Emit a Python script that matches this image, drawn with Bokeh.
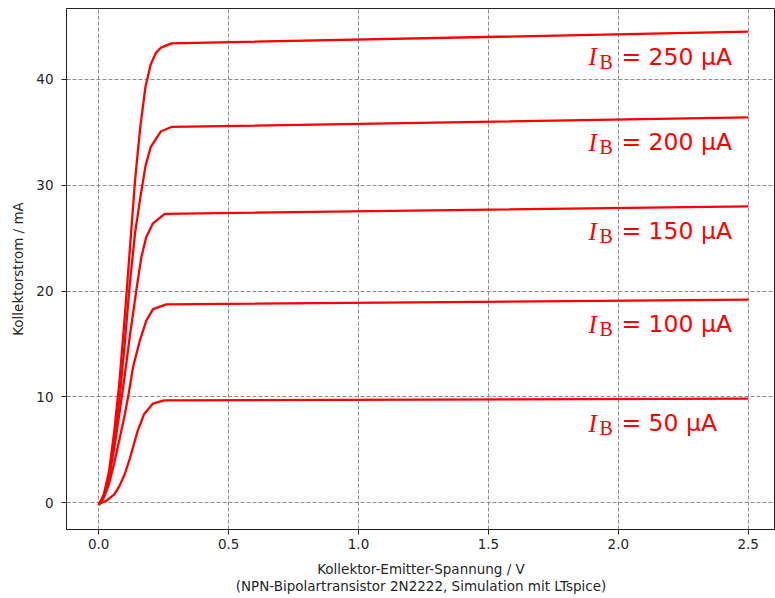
from bokeh.plotting import figure
from bokeh.models import Range1d, FixedTicker, PrintfTickFormatter
from bokeh.core.properties import value
from bokeh.embed import file_html
from bokeh.resources import INLINE

# --- data ---
ib_labels = ["50", "100", "150", "200", "250"]

u50 = [0.0, 0.03, 0.06, 0.08, 0.10, 0.12, 0.15, 0.175, 0.208, 0.252, 2.5]
i50 = [-0.1, 0.2, 0.8, 1.6, 2.7, 4.2, 6.8, 8.4, 9.36, 9.67, 9.85]

u100 = [0.0, 0.02, 0.04, 0.06, 0.08, 0.10, 0.113, 0.132, 0.158, 0.183, 0.209, 0.26, 2.5]
i100 = [-0.2, 0.5, 1.8, 3.8, 6.0, 8.3, 10.0, 12.8, 15.3, 17.2, 18.3, 18.74, 19.2]

u150 = [0.0, 0.02, 0.04, 0.06, 0.08, 0.10, 0.12, 0.145, 0.164, 0.183, 0.209, 0.254, 2.5]
i150 = [-0.2, 0.6, 2.4, 5.2, 8.5, 12.0, 15.8, 20.1, 23.2, 25.1, 26.4, 27.3, 28.0]

u200 = [0.0, 0.02, 0.04, 0.06, 0.08, 0.10, 0.12, 0.14, 0.16, 0.18, 0.20, 0.24, 0.28, 2.5]
i200 = [-0.2, 0.7, 2.7, 6.0, 9.8, 15.0, 20.8, 25.5, 28.8, 31.8, 33.6, 35.1, 35.5, 36.4]

u250 = [0.0, 0.02, 0.04, 0.06, 0.08, 0.10, 0.12, 0.14, 0.16, 0.18, 0.20, 0.22, 0.24, 0.28, 2.5]
i250 = [-0.2, 0.8, 3.0, 6.8, 11.5, 17.5, 24.0, 30.5, 35.5, 39.3, 41.4, 42.5, 43.0, 43.4, 44.5]

x_ticks = [0.0, 0.5, 1.0, 1.5, 2.0, 2.5]
y_ticks = [0, 10, 20, 30, 40]

curves = [(u50, i50), (u100, i100), (u150, i150), (u200, i200), (u250, i250)]

p = figure(width=775, height=598, output_backend="svg", toolbar_location=None,
           x_range=Range1d(-0.124, 2.605), y_range=Range1d(-2.52, 46.69),
           min_border_left=66, min_border_right=0, min_border_top=8,
           min_border_bottom=69)
p.background_fill_color = "white"
p.border_fill_color = "white"
p.outline_line_color = "#222222"
p.outline_line_width = 1

for ax, ticks in ((p.xaxis[0], x_ticks), (p.yaxis[0], y_ticks)):
    ax.ticker = FixedTicker(ticks=ticks)
    ax.minor_tick_line_color = None
    ax.major_tick_out = 5
    ax.major_tick_in = 0
    ax.major_tick_line_color = "#222222"
    ax.axis_line_color = "#222222"
    ax.major_label_text_font = "DejaVu Sans"
    ax.major_label_text_font_size = "13.5px"
    ax.major_label_text_color = "#262626"
    ax.axis_label_text_font = "DejaVu Sans"
    ax.axis_label_text_font_size = "13.5px"
    ax.axis_label_text_font_style = "normal"
    ax.axis_label_text_color = "#262626"

p.xaxis[0].formatter = PrintfTickFormatter(format="%.1f")
p.yaxis[0].formatter = PrintfTickFormatter(format="%d")
p.xaxis[0].major_label_standoff = 4
p.yaxis[0].major_label_standoff = 8
p.xaxis[0].axis_label_standoff = 9
p.yaxis[0].axis_label_standoff = 7
p.xaxis[0].axis_label_text_line_height = 1.1
p.xaxis[0].axis_label = "Kollektor-Emitter-Spannung / V\n(NPN-Bipolartransistor 2N2222, Simulation mit LTspice)"
p.yaxis[0].axis_label = "Kollektorstrom / mA"

for g in (p.xgrid[0], p.ygrid[0]):
    g.grid_line_color = "#8c8c8c"
    g.grid_line_dash = "4 2"
    g.grid_line_width = 1
p.xgrid[0].ticker = FixedTicker(ticks=x_ticks)
p.ygrid[0].ticker = FixedTicker(ticks=y_ticks)

for u, i in curves:
    p.line(u, i, line_color="red", line_width=2.3)

# annotations
lab_x = 1.885
lab_y = [c[1][-1] - 2.35 for c in curves]
n = len(lab_y)
p.text(x=[lab_x] * n, y=lab_y, text=["I"] * n, text_color="red",
       text_font=value("Liberation Serif"), text_font_style="italic",
       text_font_size="25px", text_baseline="alphabetic", text_align="left")
p.text(x=[lab_x] * n, y=lab_y, text=["B"] * n, text_color="red",
       text_font=value("Liberation Serif"), text_font_size="20px",
       text_baseline="alphabetic", text_align="left", x_offset=11, y_offset=5)
p.text(x=[lab_x] * n, y=lab_y, text=["= %s µA" % s for s in ib_labels],
       text_color="red", text_font=value("DejaVu Sans"), text_font_size="23.5px",
       text_baseline="alphabetic", text_align="left", x_offset=33)

open("out.html", "w").write(file_html(p, INLINE))
